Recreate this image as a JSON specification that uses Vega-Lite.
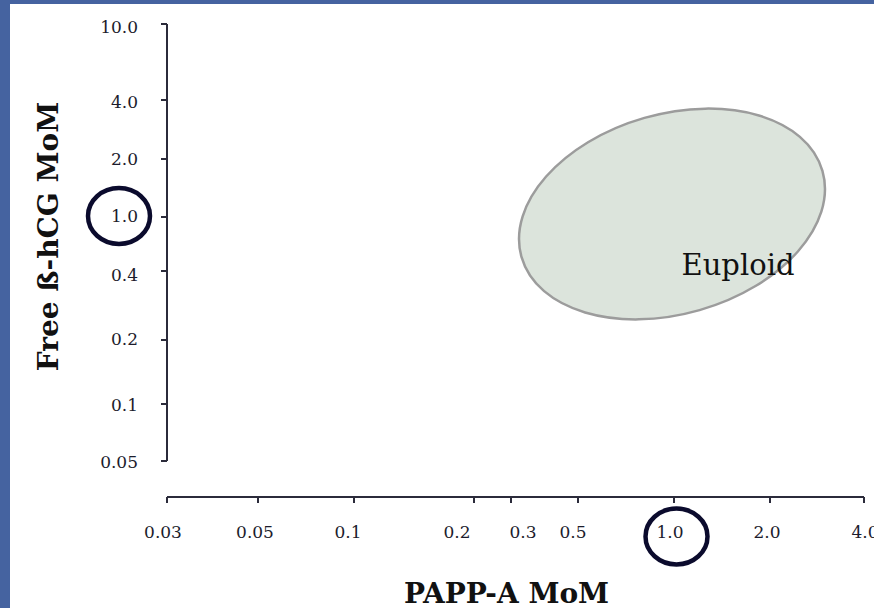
{
  "$schema": "https://vega.github.io/schema/vega-lite/v6.json",
  "width": 864,
  "height": 604,
  "autosize": {"type": "none"},
  "padding": {"left": 10, "top": 4, "right": 0, "bottom": 0},
  "background": "#4563a0",
  "config": {"view": {"fill": "#ffffff", "stroke": null}, "font": "DejaVu Serif"},
  "datasets": {
    "regions": [{"x": 505, "y": 247, "group": "Euploid"}],
    "regionLabels": [{"x": 571, "y": 186, "label": "Euploid"}],
    "axisLines": [
      {"x": 0, "x2": 0, "y": 0, "y2": 437},
      {"x": 0, "x2": 697, "y": -36, "y2": -36}
    ],
    "ticks": [
      {"x": 0, "x2": 0, "y": -36, "y2": -42},
      {"x": 91, "x2": 91, "y": -36, "y2": -42},
      {"x": 187, "x2": 187, "y": -36, "y2": -42},
      {"x": 307, "x2": 307, "y": -36, "y2": -42},
      {"x": 344, "x2": 344, "y": -36, "y2": -42},
      {"x": 411, "x2": 411, "y": -36, "y2": -42},
      {"x": 507, "x2": 507, "y": -36, "y2": -42},
      {"x": 603, "x2": 603, "y": -36, "y2": -42},
      {"x": 697, "x2": 697, "y": -36, "y2": -42},
      {"x": -6, "x2": 0, "y": 437, "y2": 437},
      {"x": -6, "x2": 0, "y": 361, "y2": 361},
      {"x": -6, "x2": 0, "y": 302, "y2": 302},
      {"x": -6, "x2": 0, "y": 244, "y2": 244},
      {"x": -6, "x2": 0, "y": 190, "y2": 190},
      {"x": -6, "x2": 0, "y": 121, "y2": 121},
      {"x": -6, "x2": 0, "y": 57, "y2": 57},
      {"x": -6, "x2": 0, "y": 0, "y2": 0}
    ],
    "labelsX": [
      {"x": -4, "y": -72, "label": "0.03"},
      {"x": 88, "y": -72, "label": "0.05"},
      {"x": 181, "y": -72, "label": "0.1"},
      {"x": 290, "y": -72, "label": "0.2"},
      {"x": 356, "y": -72, "label": "0.3"},
      {"x": 406, "y": -72, "label": "0.5"},
      {"x": 503, "y": -72, "label": "1.0"},
      {"x": 600, "y": -72, "label": "2.0"},
      {"x": 698, "y": -72, "label": "4.0"}
    ],
    "labelsY": [
      {"x": -29, "y": 433, "label": "10.0"},
      {"x": -29, "y": 358, "label": "4.0"},
      {"x": -29, "y": 301, "label": "2.0"},
      {"x": -29, "y": 244, "label": "1.0"},
      {"x": -29, "y": 185, "label": "0.4"},
      {"x": -29, "y": 121, "label": "0.2"},
      {"x": -29, "y": 55, "label": "0.1"},
      {"x": -29, "y": -2, "label": "0.05"}
    ],
    "highlights": [
      {"x": -48, "y": 245, "axis": "Free ß-hCG 1.0"},
      {"x": 509.5, "y": -75.5, "axis": "PAPP-A 1.0"}
    ]
  },
  "encoding": {
    "x": {
      "field": "x",
      "type": "quantitative",
      "scale": {"domain": [-157, 707], "nice": false, "zero": false},
      "axis": {
        "title": "PAPP-A MoM",
        "labels": false,
        "ticks": false,
        "domain": false,
        "grid": false,
        "titleFont": "DejaVu Serif",
        "titleFontSize": 28,
        "titleFontWeight": "bold",
        "titleColor": "#111111",
        "titleX": 496,
        "titleY": -6,
        "titleAlign": "center",
        "titleBaseline": "alphabetic"
      }
    },
    "y": {
      "field": "y",
      "type": "quantitative",
      "scale": {"domain": [-147, 457], "nice": false, "zero": false},
      "axis": {
        "title": "Free ß-hCG MoM",
        "labels": false,
        "ticks": false,
        "domain": false,
        "grid": false,
        "titleFont": "DejaVu Serif",
        "titleFontSize": 28,
        "titleFontWeight": "bold",
        "titleColor": "#111111",
        "titleX": 47,
        "titleY": 232,
        "titleAngle": 270,
        "titleAlign": "center",
        "titleBaseline": "alphabetic"
      }
    }
  },
  "layer": [
    {
      "data": {"name": "regions"},
      "mark": {
        "type": "point",
        "shape": "M 1 0 C 1 0.353 0.5523 0.639 0 0.639 C -0.5523 0.639 -1 0.353 -1 0 C -1 -0.353 -0.5523 -0.639 0 -0.639 C 0.5523 -0.639 1 -0.353 1 0 Z",
        "size": 97969,
        "angle": -16,
        "filled": true,
        "fill": "#dce4dc",
        "stroke": "#9c9c9c",
        "strokeWidth": 2.5,
        "opacity": 1,
        "fillOpacity": 1,
        "strokeOpacity": 1
      }
    },
    {
      "data": {"name": "regionLabels"},
      "mark": {"type": "text", "font": "DejaVu Serif", "fontSize": 29, "color": "#111111", "align": "center", "baseline": "alphabetic"},
      "encoding": {"text": {"field": "label"}}
    },
    {
      "data": {"name": "axisLines"},
      "mark": {"type": "rule", "color": "#2b2b3b", "strokeWidth": 2},
      "encoding": {"x2": {"field": "x2"}, "y2": {"field": "y2"}}
    },
    {
      "data": {"name": "ticks"},
      "mark": {"type": "rule", "color": "#2b2b3b", "strokeWidth": 2},
      "encoding": {"x2": {"field": "x2"}, "y2": {"field": "y2"}}
    },
    {
      "data": {"name": "labelsX"},
      "mark": {"type": "text", "font": "DejaVu Serif", "fontSize": 17, "color": "#1c1c2c", "align": "center", "baseline": "middle"},
      "encoding": {"text": {"field": "label"}}
    },
    {
      "data": {"name": "labelsY"},
      "mark": {"type": "text", "font": "DejaVu Serif", "fontSize": 17, "color": "#1c1c2c", "align": "right", "baseline": "middle"},
      "encoding": {"text": {"field": "label"}}
    },
    {
      "data": {"name": "highlights"},
      "mark": {
        "type": "point",
        "shape": "M 1 0 C 1 0.497 0.5523 0.9 0 0.9 C -0.5523 0.9 -1 0.497 -1 0 C -1 -0.497 -0.5523 -0.9 0 -0.9 C 0.5523 -0.9 1 -0.497 1 0 Z",
        "size": 3844,
        "filled": false,
        "stroke": "#0b0b2d",
        "strokeWidth": 4.5,
        "opacity": 1,
        "strokeOpacity": 1
      }
    }
  ]
}
